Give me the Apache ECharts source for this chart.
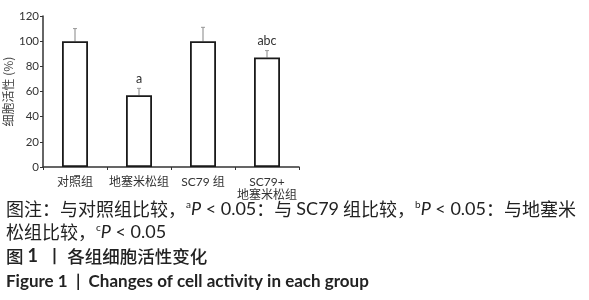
<!DOCTYPE html>
<html><head><meta charset="utf-8">
<script src="https://cdn.jsdelivr.net/npm/echarts@6/dist/echarts.min.js"></script>
<style>html,body{margin:0;padding:0;background:#fff}#c{width:589px;height:300px}</style>
</head><body><div id="c"></div>
<script>
var categories = ['对照组', '地塞米松组', 'SC79 组', 'SC79+\n地塞米松组'];
var values = [100, 57, 100, 87];
var errorTops = [110, 62.5, 111, 92.5];
var marks = ['', 'a', '', 'abc'];
var yTicks = [0, 20, 40, 60, 80, 100, 120];
var yName = '细胞活性 (%)';

var chart = echarts.init(document.getElementById('c'));
var cjk = '"Noto Sans CJK SC", sans-serif';
var lat = 'Lato, "Noto Sans CJK SC", sans-serif';
var rich = {
  n: {fontSize: 18, fontFamily: cjk, fill: '#222'},
  i: {fontSize: 18, fontFamily: lat, fontStyle: 'italic', fill: '#222'},
  l: {fontSize: 18, fontFamily: lat, fill: '#222'},
  s: {fontSize: 10, fontFamily: lat, fill: '#222', padding: [0, 0, 9, 0]}
};
chart.setOption({
  animation: false,
  grid: {left: 43, right: 290, top: 16, bottom: 133},
  xAxis: {
    type: 'category', data: categories,
    axisLine: {lineStyle: {color: '#333', width: 1.5}},
    axisTick: {show: true, alignWithLabel: false, length: 3, lineStyle: {color: '#333'}},
    axisLabel: {color: '#333', fontSize: 12, fontFamily: lat, margin: 9, lineHeight: 13, interval: 0}
  },
  yAxis: {
    type: 'value', min: 0, max: 120, interval: 20,
    name: yName, nameLocation: 'middle', nameGap: 29,
    nameTextStyle: {color: '#444', fontSize: 12, fontFamily: cjk},
    splitLine: {show: false},
    axisLine: {show: true, lineStyle: {color: '#333', width: 1.5}},
    axisTick: {show: true, length: 3, lineStyle: {color: '#333'}},
    axisLabel: {color: '#333', fontSize: 11.5, fontFamily: lat, margin: 4,
      formatter: function (v) { return yTicks.indexOf(v) >= 0 ? String(v) : ''; }}
  },
  series: [{
    type: 'bar', data: values, barWidth: 26,
    itemStyle: {color: '#fff', borderColor: '#1a1a1a', borderWidth: 1.8},
    z: 3
  }, {
    type: 'custom', z: 2,
    data: values.map(function (v, i) { return [i, v, errorTops[i]]; }),
    renderItem: function (params, api) {
      var i = api.value(0);
      var p0 = api.coord([i, api.value(1)]);
      var p1 = api.coord([i, api.value(2)]);
      var children = [
        {type: 'line', shape: {x1: p0[0], y1: p0[1], x2: p1[0], y2: p1[1]}, style: {stroke: '#999', lineWidth: 1.2}},
        {type: 'line', shape: {x1: p1[0] - 2, y1: p1[1], x2: p1[0] + 2, y2: p1[1]}, style: {stroke: '#999', lineWidth: 1}}
      ];
      if (marks[i]) {
        children.push({type: 'text', x: p1[0], y: p1[1] - 3,
          style: {text: marks[i], textAlign: 'center', textVerticalAlign: 'bottom', fill: '#333', font: '12.5px Lato, sans-serif'}});
      }
      return {type: 'group', children: children};
    }
  }],
  graphic: [
    {type: 'text', left: 6, top: 200, style: {
      rich: rich,
      text: '{n|图注：与对照组比较，}{s|a}{i|P}{l| < 0.05}{n|：与 }{l|SC79}{n| 组比较，}{s|b}{i|P}{l| < 0.05}{n|：与地塞米}'
    }},
    {type: 'text', left: 6, top: 223, style: {
      rich: rich,
      text: '{n|松组比较，}{s|c}{i|P}{l| < 0.05}'
    }},
    {type: 'text', left: 6, top: 247, style: {
      rich: {n: {fontSize: 17.5, fontFamily: cjk, fill: '#222', fontWeight: 500}, l: {fontSize: 18, fontFamily: lat, fill: '#222', fontWeight: 'bold'}},
      text: '{n|图 }{l|1}{n|  丨 各组细胞活性变化}'
    }},
    {type: 'text', left: 6, top: 273, style: {
      text: 'Figure 1  |  Changes of cell activity in each group',
      font: 'bold 17px Lato, sans-serif', fill: '#222'
    }}
  ]
});
</script></body></html>
